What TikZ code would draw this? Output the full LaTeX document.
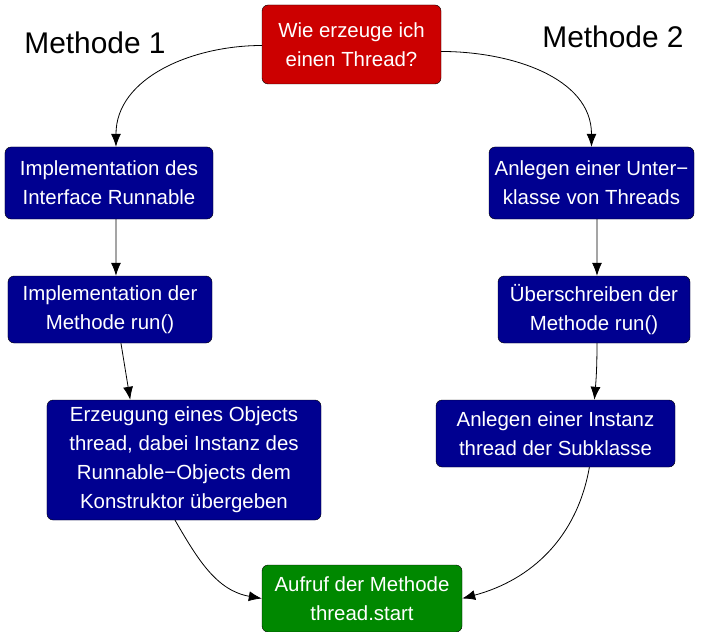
\documentclass[tikz,border=0pt]{standalone}
\usepackage{fontspec}
\setmainfont{Liberation Sans}
\usetikzlibrary{arrows.meta}
\definecolor{boxred}{HTML}{CC0000}
\definecolor{boxblue}{HTML}{000090}
\definecolor{boxgreen}{HTML}{008800}

\begin{document}
\begin{tikzpicture}[x=1bp,y=-1bp,>={Latex[length=13bp,width=10bp]},
  box/.style={draw=black,rounded corners=6bp,text=white,align=center,inner sep=0pt,
    font=\fontsize{20.5}{29}\selectfont},
  titel/.style={font=\fontsize{30}{36}\selectfont},
  pfeil/.style={->,line width=0.8bp}]
 \useasboundingbox (0,0) rectangle (705,632);
 % Frage und Ueberschriften
 \node[box,fill=boxred,minimum width=179bp,minimum height=79bp] (frage) at (351.5,44.5) {Wie erzeuge ich\\einen Thread?};
 \node[titel] (m1) at (95,43) {Methode 1};
 \node[titel] (m2) at (613,37) {Methode 2};
 % Methode 1
 \node[box,fill=boxblue,minimum width=208bp,minimum height=72bp] (impl) at (109,183) {Implementation des\\Interface Runnable};
 \node[box,fill=boxblue,minimum width=204bp,minimum height=67bp] (run) at (110,309.5) {Implementation der\\Methode run()};
 \node[box,fill=boxblue,minimum width=274bp,minimum height=120bp] (obj) at (184,460) {Erzeugung eines Objects\\thread, dabei Instanz des\\Runnable\textminus Objects dem\\Konstruktor übergeben};
 % Methode 2
 \node[box,fill=boxblue,minimum width=205bp,minimum height=72bp] (unter) at (591.5,183) {Anlegen einer Unter\textminus\\klasse von Threads};
 \node[box,fill=boxblue,minimum width=192bp,minimum height=67bp] (ueber) at (594,309.5) {Überschreiben der\\Methode run()};
 \node[box,fill=boxblue,minimum width=239bp,minimum height=67bp] (inst) at (555.5,433.5) {Anlegen einer Instanz\\thread der Subklasse};
 % Ziel
 \node[box,fill=boxgreen,minimum width=200bp,minimum height=67bp] (start) at (362,598.5) {Aufruf der Methode\\thread.start};
 % Verbindungen
 \draw[pfeil] ([yshift=-1]frage.west) to[out=180,in=90] ([xshift=7]impl.north);
 \draw[pfeil] ([yshift=-7]frage.east) to[out=0,in=90] (unter.north);
 \draw[pfeil] ([xshift=7]impl.south) -- ([xshift=6]run.north);
 \draw[pfeil] ([xshift=11]run.south) -- ([xshift=-54]obj.north);
 \draw[pfeil] ([xshift=-9]obj.south) to[out=-60,in=170] (start.west);
 \draw[pfeil] ([xshift=5.5]unter.south) -- ([xshift=3]ueber.north);
 \draw[pfeil] ([xshift=3]ueber.south) to[out=-90,in=85] ([xshift=39]inst.north);
 \draw[pfeil] ([xshift=34]inst.south) to[out=-100,in=15] (start.east);
\end{tikzpicture}
\end{document}
